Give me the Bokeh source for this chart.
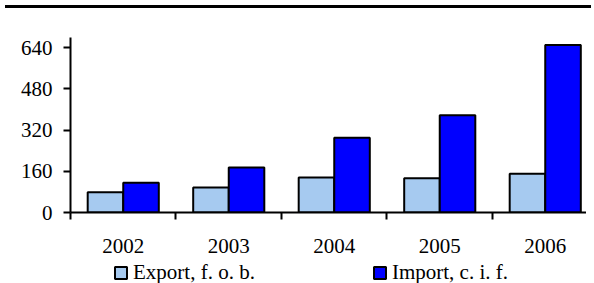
from bokeh.plotting import figure
from bokeh.models import (Range1d, FixedTicker, Legend, LegendItem, Div,
                          ColumnDataSource)
from bokeh.layouts import column
from bokeh.embed import file_html
from bokeh.resources import INLINE

years = ["2002", "2003", "2004", "2005", "2006"]
export_fob = [79, 97, 136, 133, 151]
import_cif = [116, 175, 290, 378, 651]
y_ticks = [0, 160, 320, 480, 640]
series_labels = ["Export, f. o. b.", "Import, c. i. f."]

FONT = "Liberation Serif"
EXP_COLOR = "#A6CAF0"
IMP_COLOR = "#0000FF"
W = 586
bw = 0.337
centers = [i + 0.5 for i in range(len(years))]
x_end = 4.891

src = ColumnDataSource(dict(
    xe=[c - bw / 2 for c in centers],
    xi=[c + bw / 2 for c in centers],
    exp=export_fob,
    imp=import_cif,
))

p = figure(width=W, height=247, output_backend="svg",
           toolbar_location=None,
           x_range=Range1d(0, x_end), y_range=Range1d(0, 680),
           min_border_left=70, min_border_right=0, min_border_top=24,
           min_border_bottom=48)
p.background_fill_color = "white"
p.border_fill_color = "white"
p.outline_line_color = None
p.grid.visible = False

p.vbar(x="xe", top="exp", width=bw, bottom=0, source=src,
       fill_color=EXP_COLOR, line_color="black", line_width=2)
p.vbar(x="xi", top="imp", width=bw, bottom=0, source=src,
       fill_color=IMP_COLOR, line_color="black", line_width=2)

# x axis
xa = p.xaxis[0]
xa.ticker = FixedTicker(ticks=centers, minor_ticks=list(range(len(years))))
xa.major_label_overrides = {c: y for c, y in zip(centers, years)}
xa.major_tick_out = 0
xa.major_tick_in = 0
xa.minor_tick_out = 7
xa.minor_tick_in = 0
xa.minor_tick_line_width = 2
xa.minor_tick_line_color = "black"
xa.axis_line_width = 2
xa.axis_line_color = "black"
xa.major_label_standoff = 19
xa.major_label_text_font = FONT
xa.major_label_text_font_size = "21px"
xa.major_label_text_color = "black"

# y axis
ya = p.yaxis[0]
ya.ticker = FixedTicker(ticks=y_ticks, minor_ticks=[])
ya.major_tick_out = 7
ya.major_tick_in = 0
ya.major_tick_line_width = 2
ya.major_tick_line_color = "black"
ya.axis_line_width = 2
ya.axis_line_color = "black"
ya.major_label_standoff = 11
ya.major_label_text_font = FONT
ya.major_label_text_font_size = "21px"
ya.major_label_text_color = "black"

# legend strip (own small figure so the legend is not clipped);
# its bar renderers sit far outside its y range, so only the legend shows
lg = figure(width=W, height=25, output_backend="svg", toolbar_location=None,
            x_range=Range1d(0, x_end), y_range=Range1d(5000, 5001),
            x_axis_type=None, y_axis_type=None, min_border=0)
lg.outline_line_color = None
lg.grid.visible = False
le = lg.vbar(x="xe", top="exp", width=bw, bottom=0, source=src,
             fill_color=EXP_COLOR, line_color="black", line_width=2)
li = lg.vbar(x="xi", top="imp", width=bw, bottom=0, source=src,
             fill_color=IMP_COLOR, line_color="black", line_width=2)
legend = Legend(items=[LegendItem(label=series_labels[0], renderers=[le]),
                       LegendItem(label=series_labels[1], renderers=[li])],
                location=(43, 0), orientation="horizontal",
                glyph_width=15, glyph_height=15, label_standoff=5,
                label_width=0, label_height=15, spacing=117,
                padding=0, margin=0,
                border_line_color=None, background_fill_alpha=0,
                label_text_font=FONT, label_text_font_size="21px",
                label_text_align="left",
                label_text_color="black")
lg.add_layout(legend, "center")

rule = Div(text="", width=W, height=3,
           styles={"background-color": "black"})

open("out.html", "w").write(file_html(column(rule, p, lg, spacing=0), INLINE))
